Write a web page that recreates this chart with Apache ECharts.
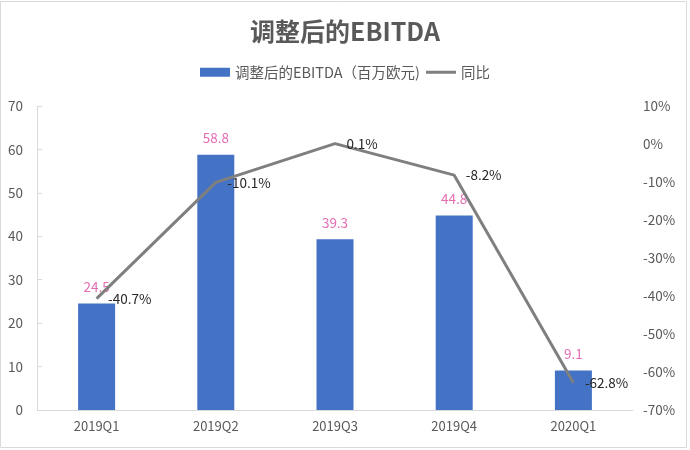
<!DOCTYPE html>
<html><head><meta charset="utf-8">
<script src="https://cdn.jsdelivr.net/npm/echarts@6/dist/echarts.min.js"></script>
<style>html,body{margin:0;padding:0;background:#fff}#c{width:690px;height:450px}</style>
</head><body><div id="c"></div>
<script>
var categories = ['2019Q1','2019Q2','2019Q3','2019Q4','2020Q1'];
var ebitda = [24.5, 58.8, 39.3, 44.8, 9.1];
var yoy = [-40.7, -10.1, 0.1, -8.2, -62.8];
var font = '"Noto Sans CJK SC", "Noto Sans", sans-serif';
var chart = echarts.init(document.getElementById('c'));
chart.setOption({
  animation: false,
  textStyle: {fontFamily: font},
  title: {text: '调整后的EBITDA', left: 'center', top: 14,
    textStyle: {fontSize: 25, fontWeight: 'bold', color: '#595959', fontFamily: font}},
  legend: {top: 60, left: 'center', itemGap: 6, itemWidth: 30, itemHeight: 9,
    textStyle: {fontSize: 14.5, color: '#595959', fontFamily: font},
    data: [{name: '调整后的EBITDA（百万欧元)', icon: 'rect'},
           {name: '同比', icon: 'path://M0,0 L30,0 L30,3 L0,3 Z', itemStyle: {color: '#7f7f7f', opacity: 1}}]},
  grid: {left: 37, right: 57, top: 106, bottom: 40},
  graphic: [{type: 'rect', shape: {x: 0.5, y: 1.5, width: 686, height: 446}, style: {fill: 'none', stroke: '#d9d9d9', lineWidth: 1}, silent: true}],
  xAxis: {type: 'category', data: categories,
    axisLine: {lineStyle: {color: '#d9d9d9'}}, axisTick: {show: false},
    axisLabel: {color: '#595959', fontSize: 13, margin: 10, fontFamily: font}},
  yAxis: [
    {type: 'value', min: 0, max: 70, interval: 10,
     axisLine: {show: true, lineStyle: {color: '#d9d9d9'}},
     axisTick: {show: true, inside: true, length: 5, lineStyle: {color: '#d9d9d9'}},
     splitLine: {show: false},
     axisLabel: {color: '#595959', fontSize: 13.5, margin: 14, fontFamily: font}},
    {type: 'value', min: -70, max: 10, interval: 10,
     axisLine: {show: false}, axisTick: {show: false}, splitLine: {show: false},
     axisLabel: {color: '#595959', fontSize: 13.5, margin: 10, formatter: '{value}%', fontFamily: font}}
  ],
  series: [
    {name: '调整后的EBITDA（百万欧元)', type: 'bar', data: ebitda, barWidth: 37,
     itemStyle: {color: '#4472C4'},
     label: {show: true, position: 'top', distance: 10, color: '#E36CB5', fontSize: 13.5, fontFamily: font}},
    {name: '同比', type: 'line', yAxisIndex: 1, data: yoy, symbol: 'circle', symbolSize: 1, showSymbol: true,
     lineStyle: {color: '#7f7f7f', width: 3}, itemStyle: {color: 'rgba(0,0,0,0)', borderWidth: 0},
     label: {show: true, position: 'right', distance: 11, color: '#262626', fontSize: 13.5,
       formatter: function(p){ return p.value + '%'; }, fontFamily: font}}
  ]
});
</script></body></html>
